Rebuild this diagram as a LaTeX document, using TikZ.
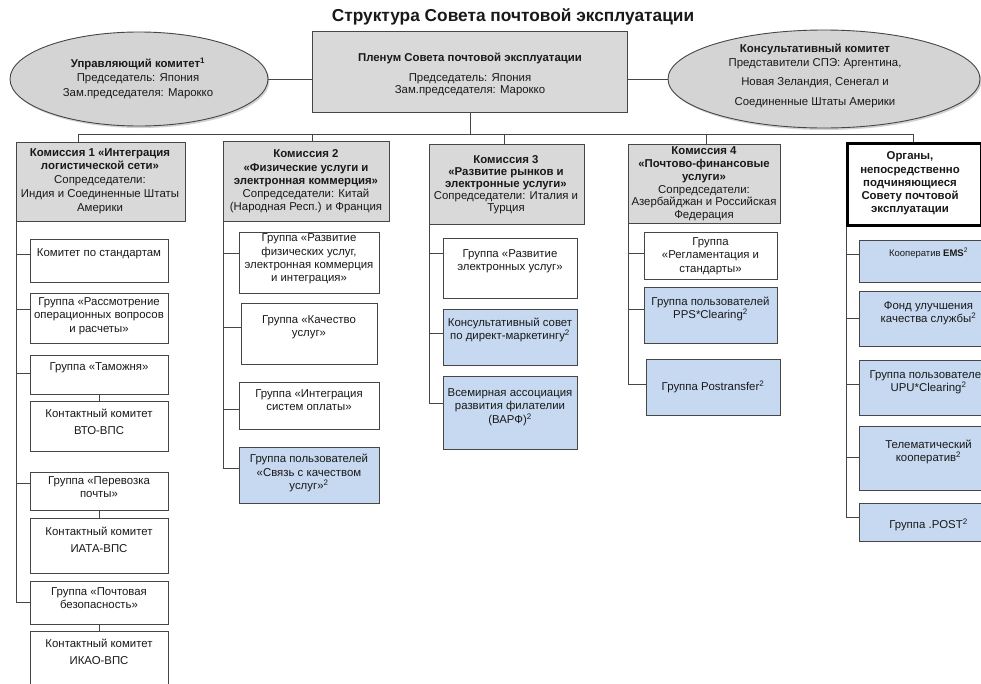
\documentclass[tikz,border=0pt]{standalone}
\usepackage{fontspec}
\setmainfont{Liberation Sans}
\usetikzlibrary{shapes.geometric,shadows}
\definecolor{lnc}{RGB}{70,70,70}
\definecolor{gfill}{RGB}{217,217,217}
\definecolor{efill}{RGB}{212,212,212}
\definecolor{bfill}{RGB}{198,217,240}
\definecolor{txc}{RGB}{25,25,25}
\tikzset{
  boxbase/.style={draw=lnc, line width=0.9pt, inner sep=0pt, anchor=north west},
  gbox/.style={boxbase, fill=gfill},
  wbox/.style={boxbase, fill=white},
  bbox/.style={boxbase, fill=bfill},
  obox/.style={boxbase, draw=black, line width=3pt, fill=white},
  ell/.style={ellipse, draw=lnc, line width=0.9pt, fill=efill, inner sep=0pt,
    drop shadow={shadow xshift=1.5pt, shadow yshift=-2pt, opacity=0.35}},
  txt/.style={align=center, text=txc, inner sep=0pt, font=\fontsize{11.4}{13.3}\selectfont},
  conn/.style={draw=lnc, line width=0.9pt},
}
% name, style, x1, y1, x2, y2, text y, connector y, text
\newcommand\mybox[9]{%
  \node[#2, minimum width={(#5)-(#3)}, minimum height={(#6)-(#4)}] (#1) at (#3,#4) {};
  \node[txt] (#1t) at ({((#3)+(#5))/2},#7) {#9};
  \coordinate (#1c) at (#3,#8);
}
\begin{document}
\begin{tikzpicture}[x=1pt,y=-1pt]
\useasboundingbox (0,0) rectangle (981,683);
\fill[white] (0,0) rectangle (981,683);
\clip (0,0) rectangle (981,683);

% title
\node[text=txc, inner sep=0pt, font=\fontsize{17.3}{20}\selectfont\bfseries] (title) at (513,17) {Структура Совета почтовой эксплуатации};

% top row
\node[gbox, minimum width=315pt, minimum height=81pt] (pl) at (312,31) {};
\node[txt, font=\fontsize{11.4}{11.5}\selectfont] (plt) at (470,74) {\textbf{Пленум Совета почтовой эксплуатации}\\[9pt]Председатель: Япония\\Зам.председателя: Марокко};

\node[ell, minimum width=258pt, minimum height=94pt] (ue) at (139,79) {};
\node[txt, font=\fontsize{11.4}{14.5}\selectfont] (uet) at (138,78) {\textbf{Управляющий комитет\textsuperscript{1}}\\Председатель: Япония\\Зам.председателя: Марокко};

\node[ell, minimum width=312pt, minimum height=98pt] (ke) at (824,79) {};
\node[txt] (ket) at (815,75.5) {\textbf{Консультативный комитет}\\[1pt]Представители СПЭ: Аргентина,\\[6pt]Новая Зеландия, Сенегал и\\[6pt]Соединенные Штаты Америки};

\draw[conn] (ue.east) -- (ue.east -| pl.west);
\draw[conn] (ke.west) -- (ke.west -| pl.east);

% commissions
\node[gbox, minimum width=169pt, minimum height=79pt] (k1) at (16,142) {};
\node[txt, font=\fontsize{11.4}{13.8}\selectfont] (k1t) at (100,181) {\textbf{Комиссия 1 «Интеграция}\\\textbf{логистической сети»}\\Сопредседатели:\\Индия и Соединенные Штаты\\Америки};

\node[gbox, minimum width=166pt, minimum height=80pt] (k2) at (223,141) {};
\node[txt, font=\fontsize{11.4}{13.3}\selectfont] (k2t) at (306,181.5) {\textbf{Комиссия 2}\\\textbf{«Физические услуги и}\\\textbf{электронная коммерция»}\\Сопредседатели: Китай\\(Народная Респ.) и Франция};

\node[gbox, minimum width=155pt, minimum height=80pt] (k3) at (429,144) {};
\node[txt, font=\fontsize{11.4}{12}\selectfont] (k3t) at (506,184.5) {\textbf{Комиссия 3}\\\textbf{«Развитие рынков и}\\\textbf{электронные услуги»}\\Сопредседатели: Италия и\\Турция};

\node[gbox, minimum width=152pt, minimum height=79pt] (k4) at (628,144) {};
\node[txt, font=\fontsize{11.4}{12.8}\selectfont] (k4t) at (704,184) {\textbf{Комиссия 4}\\\textbf{«Почтово-финансовые}\\\textbf{услуги»}\\Сопредседатели:\\Азербайджан и Российская\\Федерация};

\node[obox, minimum width=134pt, minimum height=82pt] (ko) at (846,142) {};
\node[txt, font=\fontsize{11.4}{13.3}\selectfont\bfseries] (kot) at (910,183.5) {Органы,\\непосредственно\\подчиняющиеся\\Совету почтовой\\эксплуатации};

% bus
\coordinate (busL) at (78,134);
\coordinate (busR) at (913,134);
\coordinate (d2) at (312,134);
\coordinate (d3) at (504,134);
\coordinate (d4) at (706,134);
\draw[conn] (pl.south) -- (pl.south |- busL);
\draw[conn] (busL) -- (busR);
\draw[conn] (busL) -- (busL |- k1.north);
\draw[conn] (d2) -- (d2 |- k2.north);
\draw[conn] (d3) -- (d3 |- k3.north);
\draw[conn] (d4) -- (d4 |- k4.north);
\draw[conn] (busR) -- (busR |- ko.north);

% column 1
\mybox{b11}{wbox}{30}{239}{168}{282}{254}{254}{Комитет по стандартам}
\mybox{b12}{wbox}{30}{293}{168}{343}{316}{309}{Группа «Рассмотрение\\операционных вопросов\\и расчеты»}
\mybox{b13}{wbox}{30}{355}{168}{394}{368}{373}{Группа «Таможня»}
\mybox{b14}{wbox}{30}{401}{168}{451}{422}{426}{Контактный комитет\\[4pt]ВТО-ВПС}
\mybox{b15}{wbox}{30}{472}{168}{510}{487}{483}{Группа «Перевозка\\почты»}
\mybox{b16}{wbox}{30}{518}{168}{573}{540}{545}{Контактный комитет\\[4pt]ИАТА-ВПС}
\mybox{b17}{wbox}{30}{581}{168}{624}{598}{602}{Группа «Почтовая\\безопасность»}
\mybox{b18}{wbox}{30}{631}{168}{700}{652}{652}{Контактный комитет\\[4pt]ИКАО-ВПС}
\draw[conn] (k1.south west) |- (b17c);
\foreach \b in {b11,b12,b13,b15} \draw[conn] (\b c -| k1.south west) -- (\b c);
\draw[conn] (b13.south) -- (b14.north);
\draw[conn] (b15.south) -- (b16.north);
\draw[conn] (b17.south) -- (b18.north);

% column 2
\mybox{b21}{wbox}{239}{232}{379}{293}{259}{253}{Группа «Развитие\\физических услуг,\\электронная коммерция\\и интеграция»}
\mybox{b22}{wbox}{241}{303}{377}{364}{327}{327}{Группа «Качество\\услуг»}
\mybox{b23}{wbox}{239}{382}{379}{429}{400}{409}{Группа «Интеграция\\систем оплаты»}
\mybox{b24}{bbox}{239}{447}{379}{503}{473}{468}{Группа пользователей\\«Связь с качеством\\услуг»\textsuperscript{2}}
\draw[conn] (k2.south west) |- (b24c);
\foreach \b in {b21,b22,b23} \draw[conn] (\b c -| k2.south west) -- (\b c);

% column 3
\mybox{b31}{wbox}{443}{238}{577}{298}{261}{253}{Группа «Развитие\\электронных услуг»}
\mybox{b32}{bbox}{443}{309}{577}{365}{330}{333}{Консультативный совет\\по директ-маркетингу\textsuperscript{2}}
\mybox{b33}{bbox}{443}{376}{577}{449}{407}{403}{Всемирная ассоциация\\развития филателии\\(ВАРФ)\textsuperscript{2}}
\draw[conn] (k3.south west) |- (b33c);
\foreach \b in {b31,b32} \draw[conn] (\b c -| k3.south west) -- (\b c);

% column 4
\mybox{b41}{wbox}{644}{232}{777}{279}{256}{253}{Группа\\«Регламентация и\\стандарты»}
\mybox{b42}{bbox}{644}{287}{777}{343}{309}{309}{Группа пользователей\\PPS*Clearing\textsuperscript{2}}
\mybox{b43}{bbox}{646}{359}{780}{415}{387}{384}{Группа Postransfer\textsuperscript{2}}
\draw[conn] (k4.south west) |- (b43c);
\foreach \b in {b41,b42} \draw[conn] (\b c -| k4.south west) -- (\b c);

% column 5
\mybox{b51}{bbox}{859}{240}{998}{282}{253}{254}{{\fontsize{9.5}{11}\selectfont Кооператив \textbf{EMS}\textsuperscript{2}}}
\mybox{b52}{bbox}{859}{291}{998}{346}{313}{318}{Фонд улучшения\\качества службы\textsuperscript{2}}
\mybox{b53}{bbox}{859}{360}{998}{415}{382}{384}{Группа пользователей\\UPU*Clearing\textsuperscript{2}}
\mybox{b54}{bbox}{859}{426}{998}{490}{452}{457}{Телематический\\кооператив\textsuperscript{2}}
\mybox{b55}{bbox}{859}{503}{998}{541}{525}{517}{Группа .POST\textsuperscript{2}}
\draw[conn] (ko.south west) |- (b55c);
\foreach \b in {b51,b52,b53,b54} \draw[conn] (\b c -| ko.south west) -- (\b c);
\end{tikzpicture}
\end{document}
